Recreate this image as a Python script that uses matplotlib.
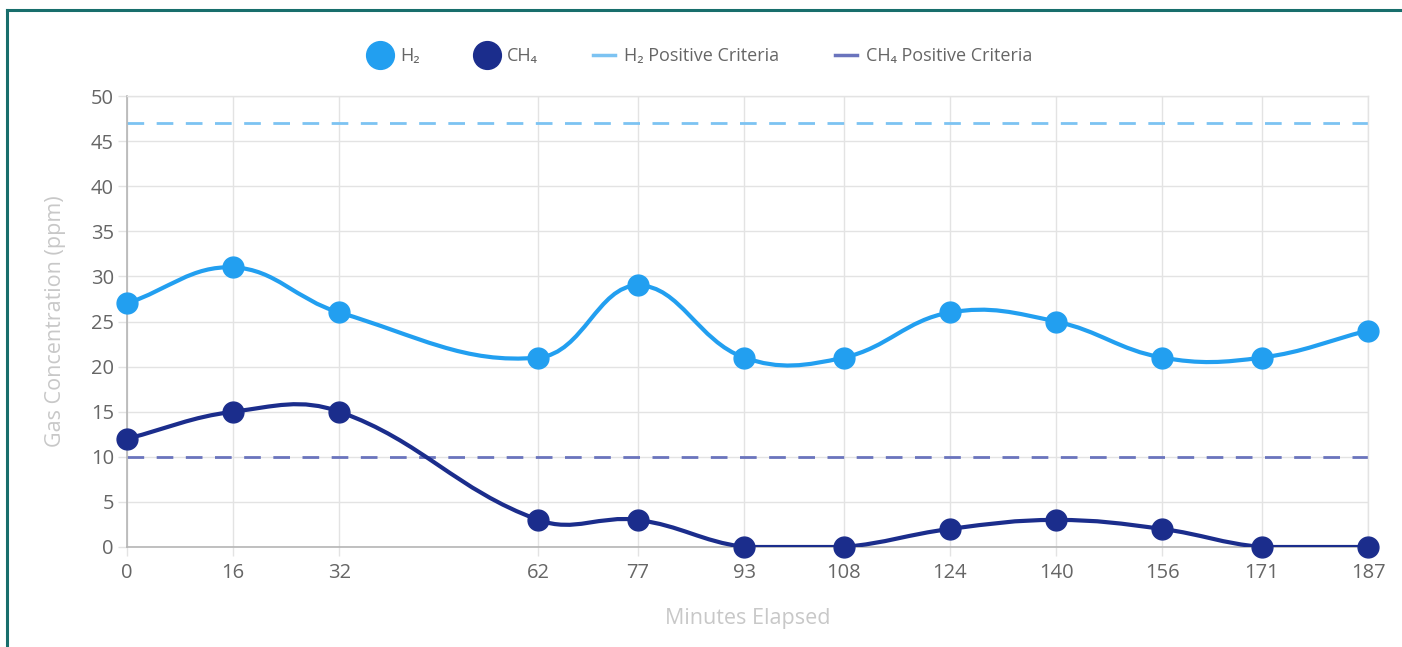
import numpy as np
import matplotlib
matplotlib.use("Agg")
import matplotlib.pyplot as plt
from matplotlib.path import Path
from matplotlib.patches import PathPatch
from matplotlib.lines import Line2D

plt.rcParams['font.family'] = ['Open Sans', 'DejaVu Sans']

minutes = [0, 16, 32, 62, 77, 93, 108, 124, 140, 156, 171, 187]
h2 = [27, 31, 26, 21, 29, 21, 21, 26, 25, 21, 21, 24]
ch4 = [12, 15, 15, 3, 3, 0, 0, 2, 3, 2, 0, 0]
h2_criteria = 47
ch4_criteria = 10

h2_color = '#229ff0'
ch4_color = '#1b2d8c'
h2_crit_color = '#7cc3f2'
ch4_crit_color = '#6a74bd'

xmin, xmax = 0, 187
ymin, ymax = 0, 50

# pixel scale of the plot area (used so the spline looks like chart.js)
left_px, right_px, top_px, bot_px = 127, 1368, 96, 547
sx = (right_px - left_px) / (xmax - xmin)
sy = (bot_px - top_px) / (ymax - ymin)


def spline_path(xs, ys, t=0.4):
    px = np.array(xs, float) * sx
    py = np.array(ys, float) * sy
    n = len(px)
    cp_prev = [None] * n
    cp_next = [None] * n
    for i in range(n):
        pi = max(i - 1, 0)
        ni = min(i + 1, n - 1)
        d01 = np.hypot(px[i] - px[pi], py[i] - py[pi])
        d12 = np.hypot(px[ni] - px[i], py[ni] - py[i])
        tot = d01 + d12
        s01 = d01 / tot if tot else 0
        s12 = d12 / tot if tot else 0
        fa, fb = t * s01, t * s12
        dx, dy = px[ni] - px[pi], py[ni] - py[pi]
        cp_prev[i] = (px[i] - fa * dx, py[i] - fa * dy)
        cp_next[i] = (px[i] + fb * dx, py[i] + fb * dy)

    def cap(p):
        x = min(max(p[0] / sx, xmin), xmax)
        y = min(max(p[1] / sy, ymin), ymax)
        return (x, y)

    verts = [(xs[0], ys[0])]
    codes = [Path.MOVETO]
    for i in range(n - 1):
        verts += [cap(cp_next[i]), cap(cp_prev[i + 1]), (xs[i + 1], ys[i + 1])]
        codes += [Path.CURVE4] * 3
    return Path(verts, codes)


fig = plt.figure(figsize=(14.02, 6.47), dpi=100)
ax = fig.add_axes([left_px / 1402, 1 - bot_px / 647,
                   (right_px - left_px) / 1402, (bot_px - top_px) / 647])

ax.set_xlim(xmin, xmax)
ax.set_ylim(ymin, ymax)
ax.set_xticks(minutes)
ax.set_yticks(np.arange(0, 51, 5))
ax.grid(True, color='#e3e3e3', linewidth=1)
ax.set_axisbelow(True)
for s in ['top', 'right']:
    ax.spines[s].set_color('#e3e3e3')
    ax.spines[s].set_linewidth(1)
for s in ['left', 'bottom']:
    ax.spines[s].set_color('#b5b5b5')
    ax.spines[s].set_linewidth(1.2)
ax.tick_params(axis='both', colors='#e3e3e3', length=6.5, width=1,
               labelcolor='#666666', labelsize=14.5)
ax.tick_params(axis='x', pad=5)
ax.tick_params(axis='y', pad=3)

ax.axhline(h2_criteria, color=h2_crit_color, lw=2, dashes=(6, 4.5))
ax.axhline(ch4_criteria, color=ch4_crit_color, lw=2, dashes=(6, 4.5))

ax.add_patch(PathPatch(spline_path(minutes, h2), fill=False,
                       edgecolor=h2_color, lw=3, capstyle='round', zorder=3))
ax.add_patch(PathPatch(spline_path(minutes, ch4), fill=False,
                       edgecolor=ch4_color, lw=3, capstyle='round', zorder=3))
ax.plot(minutes, h2, 'o', color=h2_color, ms=15, zorder=4, clip_on=False)
ax.plot(minutes, ch4, 'o', color=ch4_color, ms=15, zorder=4, clip_on=False)

ax.set_ylabel('Gas Concentration (ppm)', color='#c8c8c8', fontsize=15.5, labelpad=18)
ax.set_xlabel('Minutes Elapsed', color='#c8c8c8', fontsize=15.5, labelpad=18)

handles = [
    Line2D([], [], ls='none', marker='o', ms=20, color=h2_color),
    Line2D([], [], ls='none', marker='o', ms=20, color=ch4_color),
    Line2D([], [], color=h2_crit_color, lw=2.5),
    Line2D([], [], color=ch4_crit_color, lw=2.5),
]
labels = ['H₂', 'CH₄', 'H₂ Positive Criteria', 'CH₄ Positive Criteria']
fig.legend(handles, labels, loc='center', bbox_to_anchor=(0.5, 1 - 56 / 647),
           ncol=4, frameon=False, fontsize=13, labelcolor='#666666',
           handlelength=1.2, handletextpad=0.5, columnspacing=3.1)

# teal frame on top and left
fig.add_artist(Line2D([6.5 / 1402, 6.5 / 1402], [0, 1 - 9.5 / 647],
                      color='#186e6c', lw=2.2, transform=fig.transFigure))
fig.add_artist(Line2D([6.5 / 1402, 1], [1 - 9.5 / 647, 1 - 9.5 / 647],
                      color='#186e6c', lw=2.2, transform=fig.transFigure))

fig.savefig('out.png', dpi=100)
